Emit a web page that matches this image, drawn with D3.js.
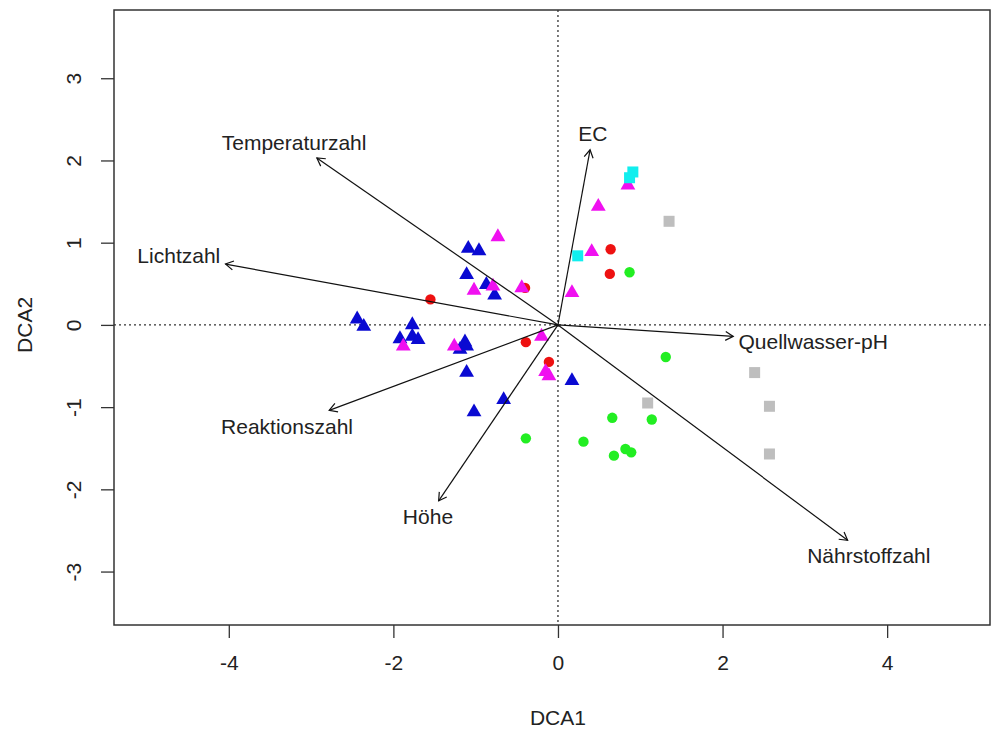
<!DOCTYPE html>
<html>
<head>
<meta charset="utf-8">
<script src="https://cdn.jsdelivr.net/npm/d3@7"></script>
<style>
  body { margin: 0; background: #fff; }
  text { font-family: "Liberation Sans", Arial, sans-serif; fill: #222; }
</style>
</head>
<body>
<svg id="chart" width="992" height="733"></svg>
<script>
// site scores (DCA1, DCA2) per group
const blueSites = [[-1.09,0.93],[-0.96,0.90],[-1.11,0.61],[-0.87,0.49],[-0.77,0.36],
  [-2.44,0.07],[-2.36,-0.02],[-1.77,0.00],[-1.92,-0.17],[-1.77,-0.14],[-1.70,-0.18],
  [-1.19,-0.30],[-1.13,-0.21],[-1.11,-0.26],[-1.11,-0.58],[-0.66,-0.91],[-1.02,-1.06],[0.17,-0.68]];
const magentaSites = [[-0.73,1.07],[-1.02,0.42],[-0.79,0.47],[-0.44,0.45],[-1.88,-0.26],
  [-1.26,-0.26],[-0.20,-0.14],[-0.15,-0.57],[-0.11,-0.62],[0.17,0.39],[0.41,0.89],[0.49,1.44],[0.85,1.70]];
const redSites = [[-0.40,0.45],[-1.55,0.31],[-0.39,-0.21],[-0.11,-0.45],[0.64,0.92],[0.63,0.62]];
const greenSites = [[0.87,0.64],[1.31,-0.39],[0.66,-1.13],[1.14,-1.15],[-0.39,-1.38],
  [0.31,-1.42],[0.68,-1.59],[0.82,-1.51],[0.89,-1.55]];
const graySites = [[1.35,1.26],[1.09,-0.95],[2.39,-0.58],[2.57,-0.99],[2.57,-1.57]];
const cyanSites = [[0.24,0.84],[0.91,1.86],[0.87,1.79]];

// envfit vectors
const envNames = ["EC","Temperaturzahl","Lichtzahl","Reaktionszahl","Höhe","Quellwasser-pH","Nährstoffzahl"];
const envX = [0.39,-2.93,-4.04,-2.78,-1.45,2.13,3.52];
const envY = [2.13,2.03,0.74,-1.04,-2.14,-0.14,-2.62];

const xTicks = [-4,-2,0,2,4];
const yTicks = [-3,-2,-1,0,1,2,3];

const svg = d3.select("#chart");
const mLeft = 114, mRight = 990, mTop = 10, mBottom = 625;
const fs = 21;

const x = d3.scaleLinear().domain([-5.395, 5.25]).range([mLeft, mRight]);
const y = d3.scaleLinear().domain([-3.65, 3.83]).range([mBottom, mTop]);

// zero lines
svg.append("line").attr("x1", mLeft).attr("x2", mRight).attr("y1", y(0)).attr("y2", y(0))
  .attr("stroke", "#333").attr("stroke-width", 1.3).attr("stroke-dasharray", "2,3");
svg.append("line").attr("x1", x(0)).attr("x2", x(0)).attr("y1", mTop).attr("y2", mBottom)
  .attr("stroke", "#333").attr("stroke-width", 1.3).attr("stroke-dasharray", "2,3");

// axes (plain hyphen minus like R)
const fmt = d => String(d);
const gx = svg.append("g").attr("transform", `translate(0,${mBottom})`)
  .call(d3.axisBottom(x).tickValues(xTicks).tickSize(13).tickPadding(17).tickFormat(fmt));
gx.select(".domain").remove();
gx.selectAll("line").attr("stroke", "#333").attr("stroke-width", 1.3);
gx.selectAll("text").style("font-size", fs + "px").attr("fill", "#222");

const gy = svg.append("g").attr("transform", `translate(${mLeft},0)`)
  .call(d3.axisLeft(y).tickValues(yTicks).tickSize(13).tickFormat(fmt));
gy.select(".domain").remove();
gy.selectAll("line").attr("stroke", "#333").attr("stroke-width", 1.3);
gy.selectAll("text").style("font-size", fs + "px").attr("fill", "#222")
  .attr("x", null).attr("dy", "0.35em").attr("text-anchor", "middle")
  .attr("transform", "translate(-40,0) rotate(-90)");

// axis titles
svg.append("text").attr("x", x(0)).attr("y", 718).attr("dy", "0.35em")
  .attr("text-anchor", "middle").style("font-size", fs + "px").text("DCA1");
svg.append("text").attr("transform", `translate(25,${y(0)}) rotate(-90)`).attr("dy", "0.35em")
  .attr("text-anchor", "middle").style("font-size", fs + "px").text("DCA2");

// box
svg.append("rect").attr("x", mLeft).attr("y", mTop).attr("width", mRight - mLeft).attr("height", mBottom - mTop)
  .attr("fill", "none").attr("stroke", "#333").attr("stroke-width", 1.5);

// site points
const tri = d3.symbol().type(d3.symbolTriangle).size(95);
const groups = [
  { data: graySites, color: "#bebebe", shape: "square" },
  { data: greenSites, color: "#22ee22", shape: "circle" },
  { data: redSites, color: "#ee1111", shape: "circle" },
  { data: blueSites, color: "#0a0ad2", shape: "triangle" },
  { data: magentaSites, color: "#f010f0", shape: "triangle" },
  { data: cyanSites, color: "#11eeee", shape: "square" }
];
groups.forEach(g => {
  const sel = svg.append("g").selectAll("path").data(g.data).enter();
  if (g.shape === "circle") {
    sel.append("circle").attr("cx", d => x(d[0])).attr("cy", d => y(d[1])).attr("r", 5.2).attr("fill", g.color);
  } else if (g.shape === "square") {
    sel.append("rect").attr("x", d => x(d[0]) - 5.5).attr("y", d => y(d[1]) - 5.5)
      .attr("width", 11).attr("height", 11).attr("fill", g.color);
  } else {
    sel.append("path").attr("d", tri).attr("fill", g.color)
      .attr("transform", d => `translate(${x(d[0])},${y(d[1])})`);
  }
});

// env arrows
const ox = x(0), oy = y(0);
const ag = svg.append("g");
envNames.forEach((name, i) => {
  const tx = x(envX[i]), ty = y(envY[i]);
  const ang = Math.atan2(ty - oy, tx - ox);
  const hl = 9, ha = Math.PI / 6;
  ag.append("line").attr("x1", ox).attr("y1", oy).attr("x2", tx).attr("y2", ty)
    .attr("stroke", "#111").attr("stroke-width", 1.2);
  ag.append("path")
    .attr("d", `M${tx - hl * Math.cos(ang - ha)},${ty - hl * Math.sin(ang - ha)}L${tx},${ty}L${tx - hl * Math.cos(ang + ha)},${ty - hl * Math.sin(ang + ha)}`)
    .attr("fill", "none").attr("stroke", "#111").attr("stroke-width", 1.2);

  // label placement like vegan's ordiArrowTextXY
  const t = ag.append("text").style("font-size", fs + "px").attr("text-anchor", "middle")
    .attr("dy", "0.35em").text(name);
  const w = t.node().getComputedTextLength(), h = 21;
  const dx = tx - ox, dyu = oy - ty;
  const b = dyu / dx;
  let offx = Math.sign(dx) * (w / 2 + h / 4), offy = 0.75 * h * Math.sign(dyu);
  const move = offy / b;
  if (isFinite(move) && Math.abs(move) <= Math.abs(offx)) offx = move;
  else offy = b * offx;
  t.attr("x", tx + offx).attr("y", ty - offy);
});
</script>
</body>
</html>
